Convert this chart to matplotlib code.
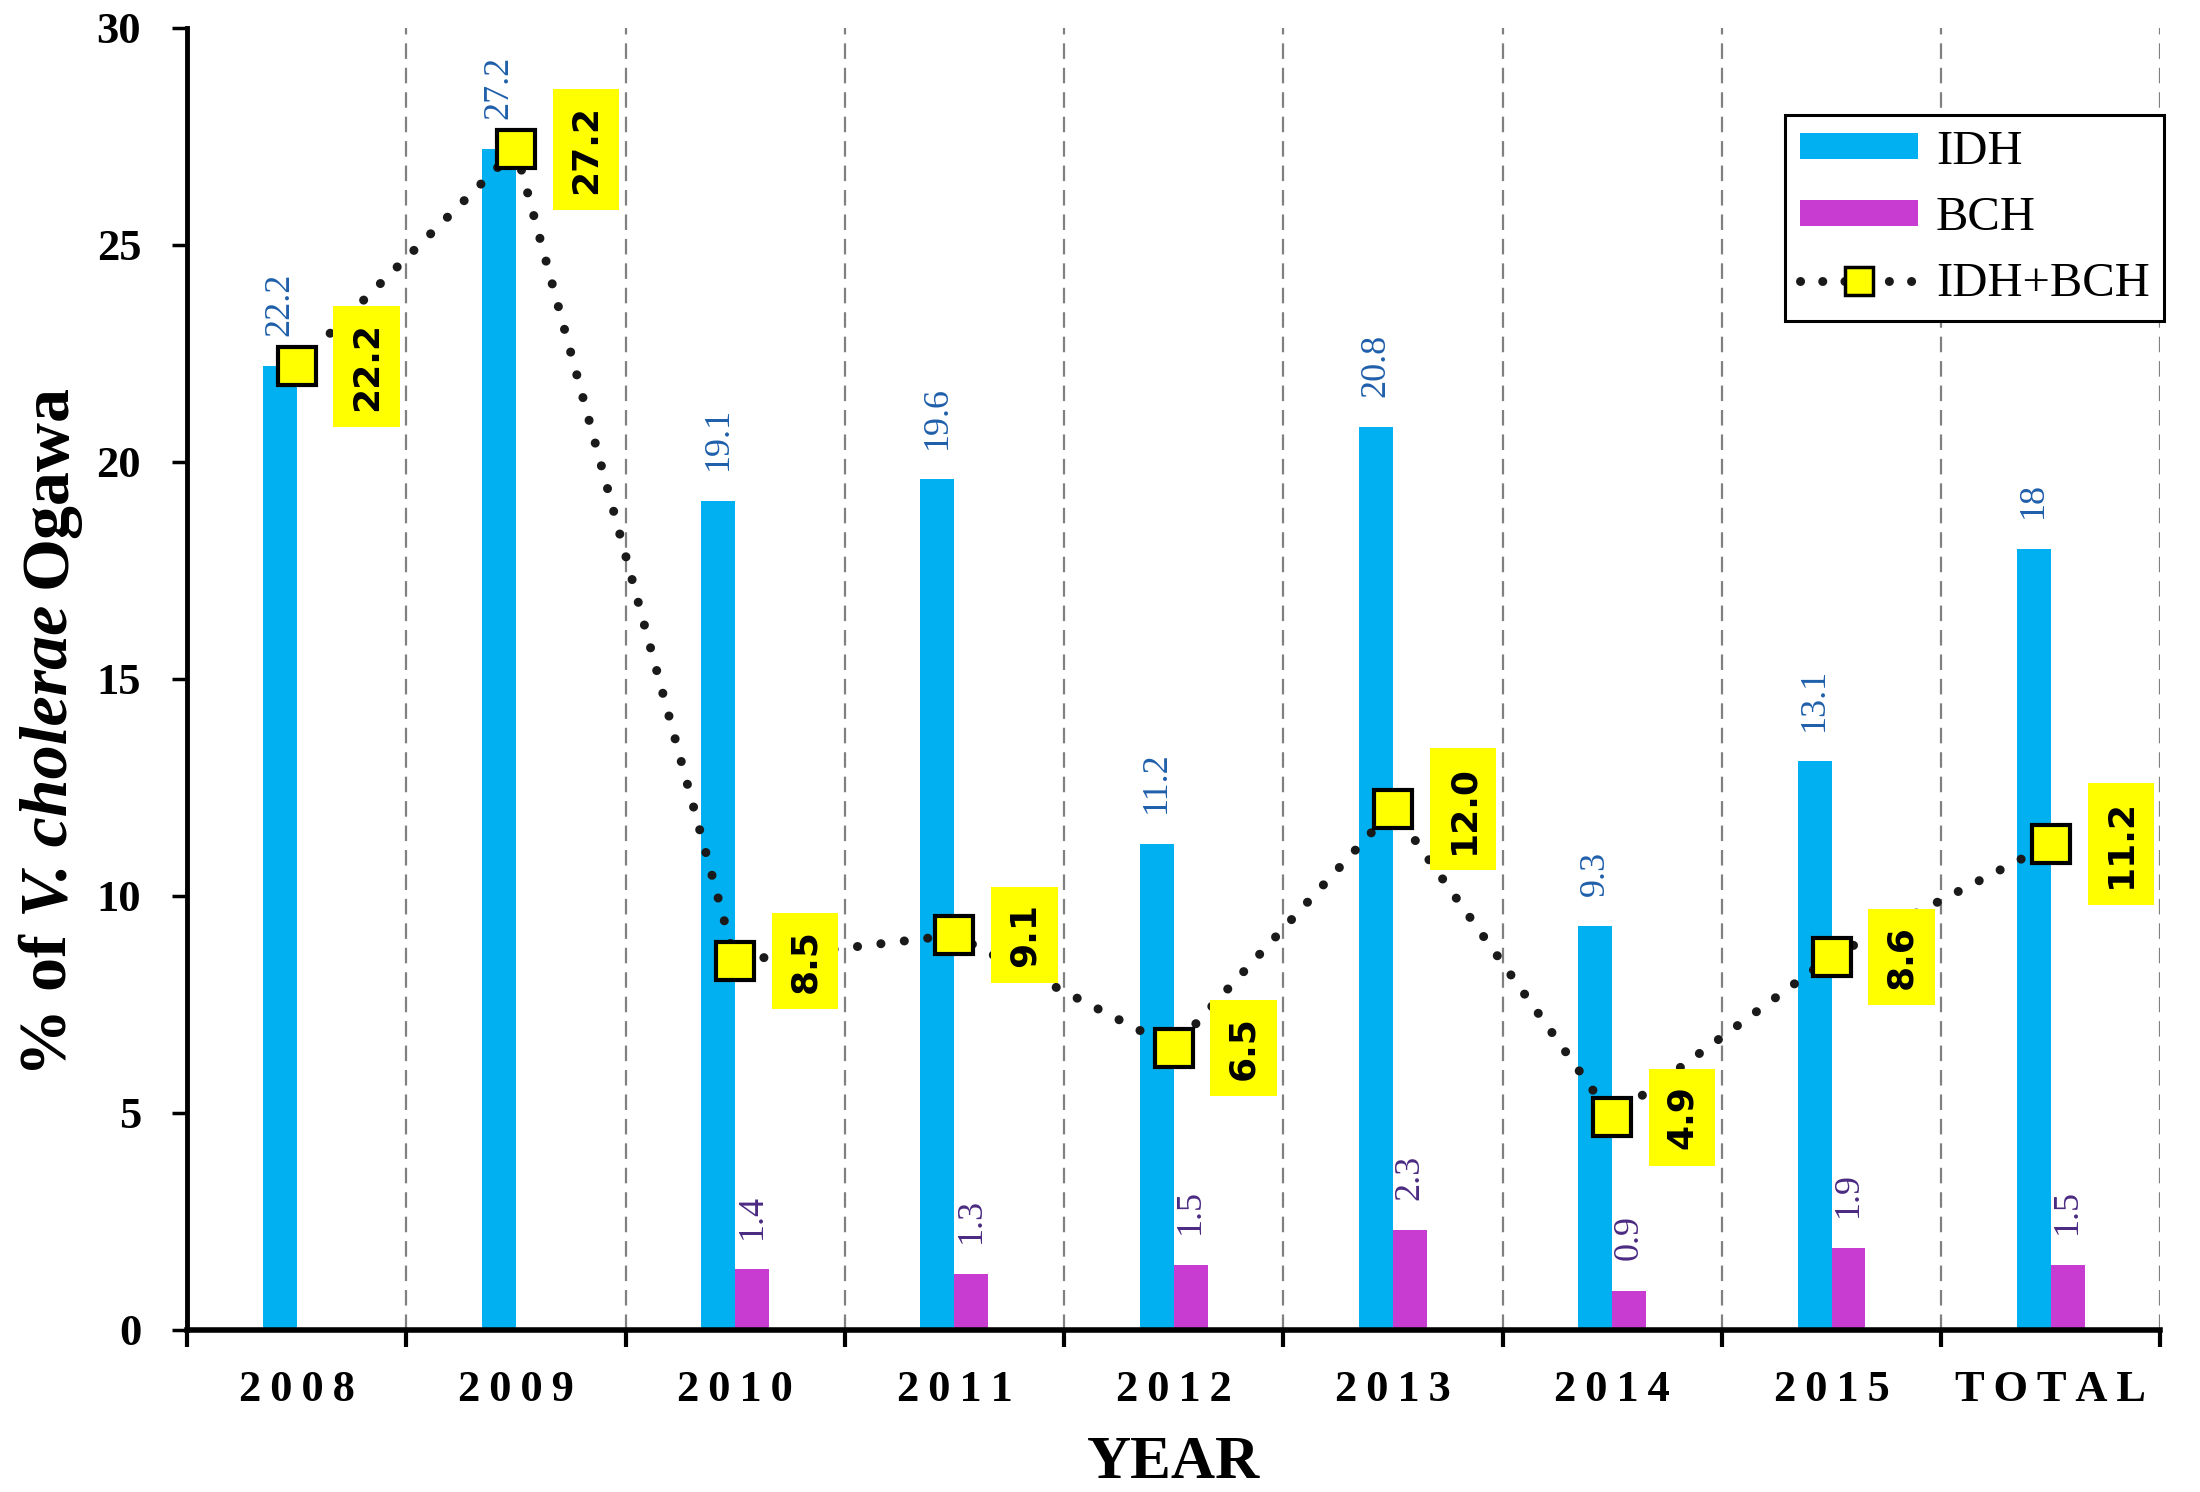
import matplotlib
matplotlib.use("Agg")
import matplotlib.pyplot as plt
from matplotlib.lines import Line2D
from matplotlib.patches import Patch
from matplotlib.font_manager import FontProperties
from matplotlib.transforms import IdentityTransform

# ---------------- data ----------------
categories = ['2008', '2009', '2010', '2011', '2012', '2013', '2014', '2015', 'TOTAL']
idh = [22.2, 27.2, 19.1, 19.6, 11.2, 20.8, 9.3, 13.1, 18.0]
bch = [None, None, 1.4, 1.3, 1.5, 2.3, 0.9, 1.9, 1.5]
combined = [22.2, 27.2, 8.5, 9.1, 6.5, 12.0, 4.9, 8.6, 11.2]
series_names = ['IDH', 'BCH', 'IDH+BCH']
y_ticks = [0, 5, 10, 15, 20, 25, 30]
ylabel_parts = [('% of', 'normal'), ('V. cholerae', 'italic'), ('Ogawa', 'normal')]
xlabel = 'YEAR'

# ---------------- style ----------------
IDH_C = '#00B0F0'
BCH_C = '#C83CD2'
IDH_TXT = '#1F5FAA'
BCH_TXT = '#4B2A82'
SERIF = ['Liberation Serif', 'DejaVu Serif']

fig = plt.figure(figsize=(22, 14.92), dpi=100)
ax = fig.add_axes([0.085, 0.1086, 0.897, 0.8727])

n = len(categories)
xs = list(range(n))
w = 0.155

# grid lines at category boundaries
for b in range(n):
    ax.axvline(b + 0.5, color='#808080', lw=1.6, dashes=(7, 4), zorder=0.5)

# bars
ax.bar([x - w / 2 for x in xs], idh, width=w, color=IDH_C, zorder=2, label=series_names[0])
bx = [x + w / 2 for x, v in zip(xs, bch) if v is not None]
bv = [v for v in bch if v is not None]
ax.bar(bx, bv, width=w, color=BCH_C, zorder=2, label=series_names[1])

# bar value labels
for x, v in zip(xs, idh):
    ax.annotate(f"{v:g}", (x - w / 2, v), xytext=(0, 22), textcoords='offset points',
                rotation=90, ha='center', va='bottom', fontsize=26, family=SERIF,
                color=IDH_TXT, zorder=3)
for x, v in zip(xs, bch):
    if v is None:
        continue
    ax.annotate(f"{v:g}", (x + w / 2, v), xytext=(0, 22), textcoords='offset points',
                rotation=90, ha='center', va='bottom', fontsize=26, family=SERIF,
                color=BCH_TXT, zorder=3)

# combined line
ax.plot(xs, combined, color='#1a1a1a', lw=6.5, linestyle=(0, (0.01, 2.6)),
        dash_capstyle='round', zorder=4)
ax.plot(xs, combined, linestyle='none', marker='s', ms=27, mfc='#FFFF00',
        mec='black', mew=3, zorder=5)

for x, v in zip(xs, combined):
    ax.annotate(f"{v:.1f}", (x, v), xytext=(50.4, 0), textcoords='offset points',
                rotation=90, ha='center', va='center', fontsize=26,
                fontweight='bold', family='DejaVu Sans', color='black', zorder=6,
                bbox=dict(boxstyle='square,pad=0.45', fc='#FFFF00', ec='none'))

# axes
ax.set_xlim(-0.5, n - 0.5)
ax.set_ylim(0, 30)
for s in ['top', 'right']:
    ax.spines[s].set_visible(False)
ax.spines['left'].set_linewidth(3.5)
ax.spines['bottom'].set_linewidth(4)

ax.set_yticks(y_ticks)
ax.set_yticklabels([str(t) for t in y_ticks], fontsize=32, fontweight='bold', family=SERIF)
ax.tick_params(axis='y', direction='out', length=11, width=2.5, pad=22)

ax.set_xticks(xs)
ax.set_xticklabels(['\u2009'.join(c) for c in categories], fontsize=32,
                   fontweight='bold', family=SERIF)
ax.tick_params(axis='x', which='major', length=0, pad=29)
ax.set_xticks([b - 0.5 for b in range(n + 1)], minor=True)
ax.tick_params(axis='x', which='minor', direction='out', length=12, width=3)

# y label built from pieces (bold + bold italic), rotated, baseline aligned
renderer = fig.canvas.get_renderer()
YL_SIZE = 49
props = {st: FontProperties(family=SERIF, weight='bold', style=st, size=YL_SIZE)
         for st in ('normal', 'italic')}
def tw(s, st):
    return renderer.get_text_width_height_descent(s, props[st], ismath=False)[0]
space_w = tw('o o', 'normal') - tw('oo', 'normal')
widths = [tw(s, st) for s, st in ylabel_parts]
total = sum(widths) + space_w * (len(widths) - 1)
base_x = 66
center_y = 1492 - 730
ypos = center_y - total / 2
for (s, st), wd in zip(ylabel_parts, widths):
    fig.text(base_x, ypos, s, transform=IdentityTransform(), rotation=90,
             rotation_mode='anchor', ha='left', va='baseline', fontproperties=props[st])
    ypos += wd + space_w

fig.text(0.5336, 0.0095, xlabel, ha='center', va='baseline', fontsize=44,
         fontweight='bold', family=SERIF)

# legend
handles = [
    Patch(facecolor=IDH_C, edgecolor='none'),
    Patch(facecolor=BCH_C, edgecolor='none'),
    Line2D([0], [0], color='#1a1a1a', lw=6.5, linestyle=(0, (0.01, 2.45)),
           dash_capstyle='round', marker='s', ms=20, mfc='#FFFF00', mec='black', mew=2.5),
]
leg = ax.legend(handles, series_names, loc='upper right', bbox_to_anchor=(1.002, 0.933),
                borderaxespad=0, handlelength=2.43, handleheight=0.45,
                handletextpad=0.37, labelspacing=0.46, borderpad=0.3, fancybox=False,
                framealpha=1, edgecolor='black', prop={'family': SERIF, 'size': 35})
leg.get_frame().set_linewidth(2.2)
leg.set_zorder(10)

fig.savefig('out.png', dpi=100)
